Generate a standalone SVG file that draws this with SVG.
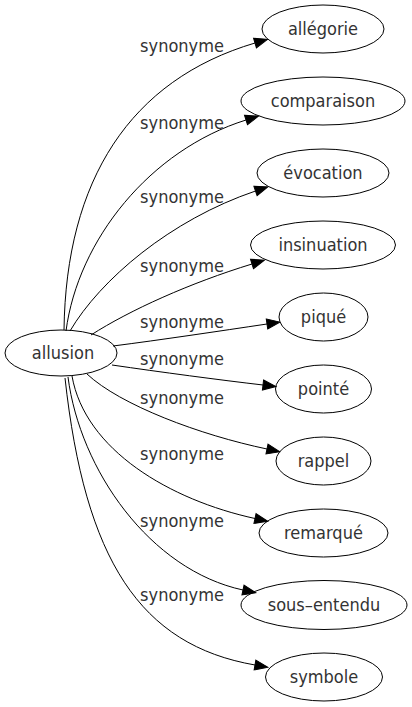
<svg xmlns="http://www.w3.org/2000/svg" width="412" height="707" viewBox="0 0 412 707">
<style>
  .node ellipse { fill: none; stroke: #000; stroke-width: 1; }
  text { font-family: "DejaVu Sans Condensed", "DejaVu Sans", sans-serif; font-stretch: condensed; font-size: 18px; fill: #333; text-anchor: middle; }
  .edge { fill: none; stroke: #000; stroke-width: 1; marker-end: url(#arrow); }
</style>
<defs>
  <marker id="arrow" markerUnits="userSpaceOnUse" markerWidth="14" markerHeight="10" refX="0" refY="5" orient="auto" overflow="visible">
    <path d="M0,0 L13,5 L0,10 z" fill="#000" stroke="#000" stroke-width="1"/>
  </marker>
</defs>
<rect width="412" height="707" fill="#fff"/>
<g id="connectors">
  <path class="edge" d="M64,330 C66,180 130,80 255,43"/>
  <path class="edge" d="M66,331 C78,240 150,150 246,120"/>
  <path class="edge" d="M70,331 C100,280 170,220 255.5,191"/>
  <path class="edge" d="M91,335 C130,310 190,283 252,264"/>
  <path class="edge" d="M113,346 C160,340 220,331 267,324"/>
  <path class="edge" d="M112,365 C160,372 220,380 263,385"/>
  <path class="edge" d="M87,374 C120,405 200,435 267,449"/>
  <path class="edge" d="M72,376 C85,450 170,500 255,518.5"/>
  <path class="edge" d="M68,377 C80,470 150,570 243,590"/>
  <path class="edge" d="M65,378 C85,560 140,645 255,665"/>
  <text x="182" y="52">synonyme</text>
  <text x="182" y="128.5">synonyme</text>
  <text x="182" y="202.5">synonyme</text>
  <text x="182" y="272">synonyme</text>
  <text x="182" y="327.5">synonyme</text>
  <text x="182" y="365">synonyme</text>
  <text x="182" y="403.5">synonyme</text>
  <text x="182" y="459.5">synonyme</text>
  <text x="182" y="527">synonyme</text>
  <text x="182" y="601">synonyme</text>
</g>
<g id="allusion" class="node"><ellipse cx="61" cy="353" rx="56" ry="23"/><text x="63" y="359">allusion</text></g>
<g id="allegorie" class="node"><ellipse cx="323" cy="29" rx="61" ry="24"/><text x="323" y="35">allégorie</text></g>
<g id="comparaison" class="node"><ellipse cx="323" cy="101" rx="82" ry="24"/><text x="323" y="107">comparaison</text></g>
<g id="evocation" class="node"><ellipse cx="323" cy="173" rx="66" ry="24"/><text x="323" y="179">évocation</text></g>
<g id="insinuation" class="node"><ellipse cx="323" cy="245" rx="72.5" ry="24"/><text x="323" y="251">insinuation</text></g>
<g id="pique" class="node"><ellipse cx="323.5" cy="317" rx="44.5" ry="24"/><text x="323.5" y="323">piqué</text></g>
<g id="pointe" class="node"><ellipse cx="323.5" cy="389" rx="48" ry="24"/><text x="323.5" y="395">pointé</text></g>
<g id="rappel" class="node"><ellipse cx="323.5" cy="461" rx="47.5" ry="24"/><text x="323.5" y="467">rappel</text></g>
<g id="remarque" class="node"><ellipse cx="323.5" cy="533" rx="64.5" ry="24"/><text x="323.5" y="539">remarqué</text></g>
<g id="sous-entendu" class="node"><ellipse cx="324" cy="605" rx="83" ry="24.5"/><text x="324" y="611">sous–entendu</text></g>
<g id="symbole" class="node"><ellipse cx="324" cy="677" rx="58.5" ry="24"/><text x="324" y="683">symbole</text></g>
</svg>
